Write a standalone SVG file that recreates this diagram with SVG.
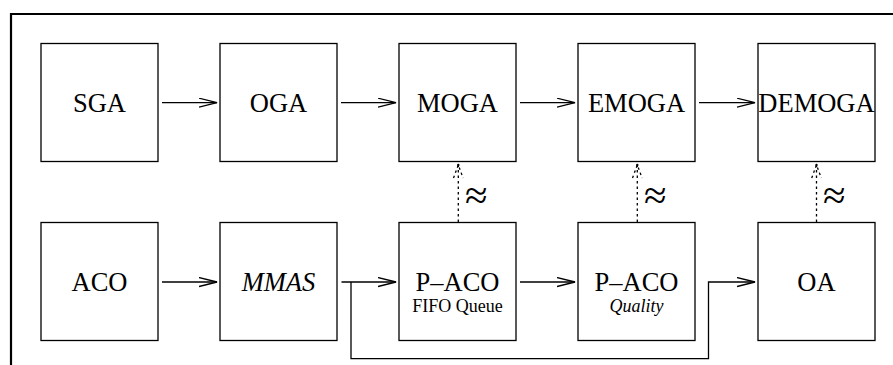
<svg xmlns="http://www.w3.org/2000/svg" width="893" height="365" viewBox="0 0 893 365">
<style>
.box{fill:#fff;stroke:#000;stroke-width:1.3}
.t{font-family:"Liberation Serif","Times New Roman",serif;font-size:26.5px;text-anchor:middle;fill:#000}
.s{font-family:"Liberation Serif","Times New Roman",serif;font-size:18px;text-anchor:middle;fill:#000}
.i{font-style:italic}
.c{fill:none;stroke:#000;stroke-width:1.3}
.d{fill:none;stroke:#000;stroke-width:1.3;stroke-dasharray:2.5 3}
.ap{font-family:"Liberation Serif",serif;font-size:41px;fill:#000}
</style>
<defs>
<marker id="ah" markerWidth="20" markerHeight="12" refX="18" refY="5" orient="auto" markerUnits="userSpaceOnUse">
<path d="M0,0.5 L18,5 L0,9.5" fill="none" stroke="#000" stroke-width="1.3"/>
</marker>
</defs>
<rect width="893" height="365" fill="#fff"/>
<path d="M11,365 V14 H893" fill="none" stroke="#000" stroke-width="2.2"/>
<g id="SGA"><rect class="box" x="41" y="43.5" width="117" height="118"/><text class="t" x="99.5" y="111.5">SGA</text></g>
<g id="OGA"><rect class="box" x="220" y="43.5" width="117" height="118"/><text class="t" x="278.5" y="111.5">OGA</text></g>
<g id="MOGA"><rect class="box" x="399" y="43.5" width="117" height="118"/><text class="t" x="457.5" y="111.5">MOGA</text></g>
<g id="EMOGA"><rect class="box" x="578" y="43.5" width="117" height="118"/><text class="t" x="636.5" y="111.5">EMOGA</text></g>
<g id="DEMOGA"><rect class="box" x="758" y="43.5" width="117" height="118"/><text class="t" x="816.5" y="111.5">DEMOGA</text></g>
<g id="ACO"><rect class="box" x="41" y="222.5" width="117" height="118"/><text class="t" x="99.5" y="290.5">ACO</text></g>
<g id="MMAS"><rect class="box" x="220" y="222.5" width="117" height="118"/><text class="t i" x="278.5" y="290.5">MMAS</text></g>
<g id="PACO_FIFO"><rect class="box" x="399" y="222.5" width="117" height="118"/><text class="t" x="457.5" y="290.5">P–ACO</text><text class="s" x="457.5" y="311.5">FIFO Queue</text></g>
<g id="PACO_Quality"><rect class="box" x="578" y="222.5" width="117" height="118"/><text class="t" x="636.5" y="290.5">P–ACO</text><text class="s i" x="636.5" y="311.5">Quality</text></g>
<g id="OA"><rect class="box" x="758" y="222.5" width="117" height="118"/><text class="t" x="816.5" y="290.5">OA</text></g>
<g id="connectors">
<path class="c" d="M162,102.7 H217" marker-end="url(#ah)"/>
<path class="c" d="M341,102.7 H396" marker-end="url(#ah)"/>
<path class="c" d="M520,102.7 H575" marker-end="url(#ah)"/>
<path class="c" d="M699,102.7 H755" marker-end="url(#ah)"/>
<path class="c" d="M162,282 H217" marker-end="url(#ah)"/>
<path class="c" d="M341.5,282 H396" marker-end="url(#ah)"/>
<path class="c" d="M520,282 H575" marker-end="url(#ah)"/>
<path class="c" d="M351,282 V358.7 H708.5 V282 H755" marker-end="url(#ah)"/>
<path class="d" d="M458.3,222 V166"/>
<path class="d" d="M453.5,178 L458.3,165 L463.1,178"/>
<circle cx="458.3" cy="165" r="1.2"/>
<path class="d" d="M637.3,222 V166"/>
<path class="d" d="M632.5,178 L637.3,165 L642.1,178"/>
<circle cx="637.3" cy="165" r="1.2"/>
<path class="d" d="M816.5,222 V166"/>
<path class="d" d="M811.7,178 L816.5,165 L821.3,178"/>
<circle cx="816.5" cy="165" r="1.2"/>
<text class="ap" x="465" y="209">≈</text>
<text class="ap" x="644" y="209">≈</text>
<text class="ap" x="823" y="209">≈</text>
</g>
</svg>
